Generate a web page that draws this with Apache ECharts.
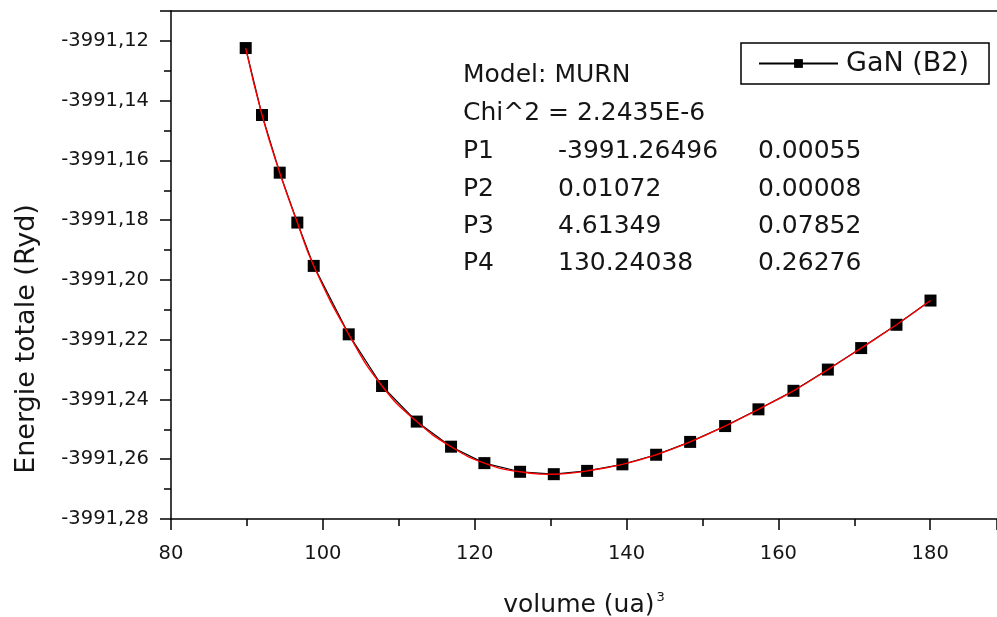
<!DOCTYPE html>
<html>
<head>
<meta charset="utf-8">
<script src="https://cdn.jsdelivr.net/npm/echarts@6/dist/echarts.min.js"></script>
<style>
html,body{margin:0;padding:0;background:#fff;}
#chart{width:997px;height:617px;}
</style>
</head>
<body>
<div id="chart"></div>
<script>
// ---- data ----
const volume = [89.84, 91.99, 94.32, 96.64, 98.80, 103.41, 107.80, 112.37, 116.89, 121.28, 125.98, 130.42, 134.81, 139.46, 143.90, 148.38, 152.99, 157.38, 161.99, 166.52, 170.91, 175.56, 180.04];
const energy = [-3991.1224, -3991.1448, -3991.1641, -3991.1808, -3991.1953, -3991.2182, -3991.2355, -3991.2474, -3991.2558, -3991.2613, -3991.2642, -3991.2650, -3991.2639, -3991.2617, -3991.2585, -3991.2542, -3991.2489, -3991.2433, -3991.2371, -3991.2300, -3991.2228, -3991.2150, -3991.2069];
const seriesName = 'GaN (B2)';
const fitLines = [
  ['Model: MURN', '', ''],
  ['Chi^2 = 2.2435E-6', '', ''],
  ['P1', '-3991.26496', '0.00055'],
  ['P2', '0.01072', '0.00008'],
  ['P3', '4.61349', '0.07852'],
  ['P4', '130.24038', '0.26276']
];
const xTitle = 'volume (ua)';
const xTitleSup = '3';
const yTitle = 'Energie totale (Ryd)';

const FONT = 'DejaVu Sans';
const TXT = '#151515';
const pts = volume.map((v, i) => [v, energy[i]]);

const graphics = [];
const lineY = [76, 114, 152, 190, 227, 264];
const colX = [463, 558, 758];
fitLines.forEach((row, r) => {
  row.forEach((t, c) => {
    if (!t) return;
    graphics.push({
      type: 'text', left: colX[c], top: lineY[r] - 13,
      style: { text: t, fontFamily: FONT, fontSize: 25, fill: TXT }
    });
  });
});

const chart = echarts.init(document.getElementById('chart'), null, {renderer: 'canvas'});
chart.setOption({
  animation: false,
  backgroundColor: '#fff',
  grid: { left: 171, right: 0, top: 11, bottom: 98, outerBoundsMode: 'none', containLabel: false },
  legend: {
    data: [seriesName],
    left: 741, top: 43,
    borderColor: '#000', borderWidth: 1.5, backgroundColor: '#fff',
    padding: [7, 20, 7, 17],
    itemWidth: 79, itemHeight: 11,
    textStyle: { fontFamily: FONT, fontSize: 27, color: TXT, padding: [0, 0, 0, 3] }
  },
  xAxis: [{
    type: 'value', min: 80, max: 188.8, interval: 20,
    name: '{a|' + xTitle + '}{s|' + xTitleSup + '}',
    nameLocation: 'middle', nameGap: 72,
    nameTextStyle: {
      rich: {
        a: { fontFamily: FONT, fontSize: 25, color: TXT },
        s: { fontFamily: FONT, fontSize: 13, color: TXT, padding: [0, 0, 16, 2] }
      }
    },
    axisLine: { show: true, onZero: false, lineStyle: { color: '#000', width: 1.5 } },
    axisTick: { show: true, inside: false, length: 11, lineStyle: { color: '#000', width: 1.5 } },
    minorTick: { show: true, splitNumber: 2, length: 7, lineStyle: { color: '#000', width: 1.5 } },
    axisLabel: { fontFamily: FONT, fontSize: 19.5, color: TXT, margin: 25, showMaxLabel: false },
    splitLine: { show: false }
  }, {
    type: 'value', min: 80, max: 188.8, position: 'top',
    axisLine: { show: true, onZero: false, lineStyle: { color: '#000', width: 1.5 } },
    axisTick: { show: false }, axisLabel: { show: false }, splitLine: { show: false }
  }],
  yAxis: {
    type: 'value', min: -3991.28, max: -3991.11, interval: 0.02,
    name: yTitle, nameLocation: 'middle', nameRotate: 90, nameGap: 131,
    nameTextStyle: { fontFamily: FONT, fontSize: 27, color: TXT, padding: [0, 148, 0, 0] },
    axisLine: { show: true, onZero: false, lineStyle: { color: '#000', width: 1.5 } },
    axisTick: { show: true, inside: false, length: 11, lineStyle: { color: '#000', width: 1.5 } },
    minorTick: { show: true, splitNumber: 2, length: 7, lineStyle: { color: '#000', width: 1.5 } },
    axisLabel: {
      fontFamily: FONT, fontSize: 19.5, color: TXT, margin: 22, showMaxLabel: false,
      formatter: v => (Math.round(v * 100) / 100).toFixed(2).replace('.', ',')
    },
    splitLine: { show: false }
  },
  series: [{
    name: seriesName, type: 'line', data: pts,
    symbol: 'rect', symbolSize: 12,
    itemStyle: { color: '#000' },
    lineStyle: { color: '#000', width: 1.2 },
    z: 2
  }, {
    name: 'fit', type: 'line', data: pts, smooth: true,
    showSymbol: false, symbol: 'none',
    lineStyle: { color: '#ff0000', width: 1.4 },
    z: 3, silent: true
  }],
  graphic: graphics
});
</script>
</body>
</html>
